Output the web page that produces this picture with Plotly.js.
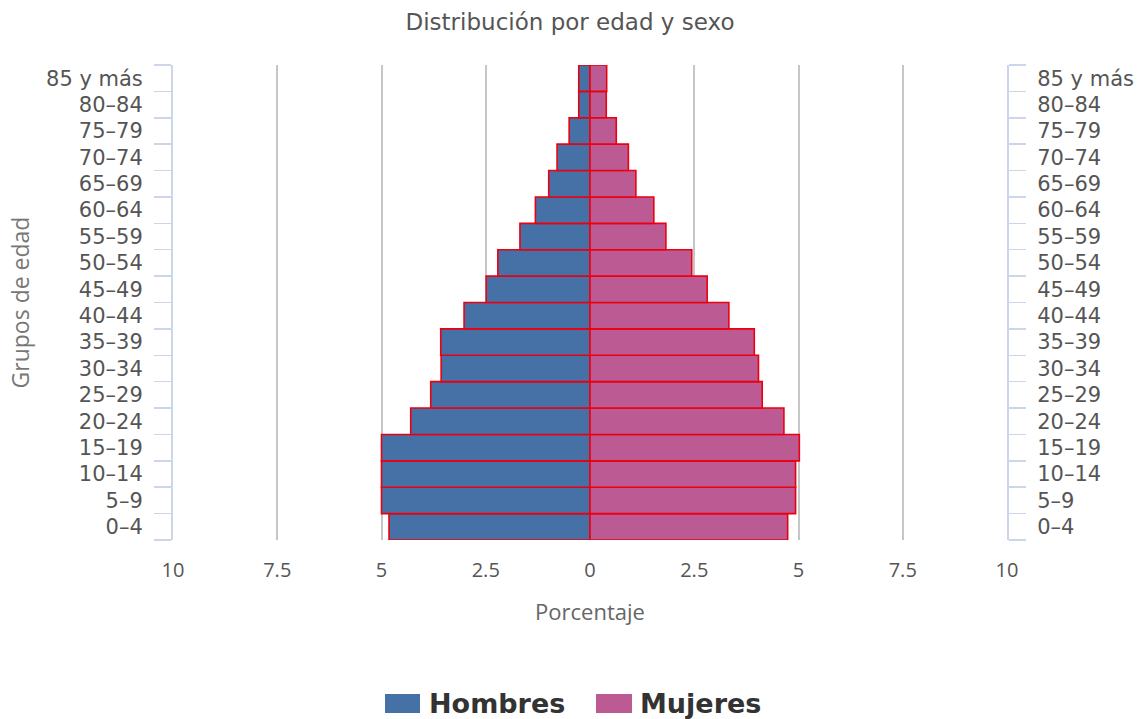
<!DOCTYPE html>
<html>
<head>
<meta charset="utf-8">
<script src="https://cdn.plot.ly/plotly-3.0.1.min.js"></script>
<style>html,body{margin:0;padding:0;background:#fff;}#chart{width:1140px;height:719px;}</style>
</head>
<body>
<div id="chart"></div>
<script>
const categories = ['0–4','5–9','10–14','15–19','20–24','25–29','30–34','35–39','40–44','45–49','50–54','55–59','60–64','65–69','70–74','75–79','80–84','85 y más'];
const hombres = [4.82,5.00,5.00,5.00,4.30,3.82,3.57,3.58,3.02,2.49,2.21,1.68,1.31,0.99,0.79,0.50,0.27,0.27];
const mujeres = [4.74,4.93,4.93,5.02,4.65,4.13,4.04,3.94,3.33,2.81,2.44,1.82,1.53,1.10,0.92,0.63,0.39,0.40];
const tickVals = [-10,-7.5,-5,-2.5,0,2.5,5,7.5,10];
const tickText = ['10','7.5','5','2.5','0','2.5','5','7.5','10'];
const seriesNames = ['Hombres','Mujeres'];
const colHombres = '#4571a6';
const colMujeres = '#bc5a93';
const outline = '#ec0010';

const traces = [
  {type:'bar', orientation:'h', name:seriesNames[0], y:categories, x:hombres.map(v=>-v),
   marker:{color:colHombres, line:{color:outline, width:1.6}}, xaxis:'x', yaxis:'y', showlegend:false,
   hovertemplate:'%{y}: %{customdata}%<extra>'+seriesNames[0]+'</extra>', customdata:hombres},
  {type:'bar', orientation:'h', name:seriesNames[1], y:categories, x:mujeres,
   marker:{color:colMujeres, line:{color:outline, width:1.6}}, xaxis:'x', yaxis:'y2', showlegend:false,
   hovertemplate:'%{y}: %{x}%<extra>'+seriesNames[1]+'</extra>'}
];

const yCommon = {
  type:'category', categoryorder:'array', categoryarray:categories,
  range:[-0.5, categories.length-0.5], autorange:false,
  showline:true, linecolor:'#ccd6eb', linewidth:2,
  ticks:'outside', ticklen:17, tickwidth:1.5, tickcolor:'#ccd6eb', tickson:'boundaries',
  ticklabelstandoff:24,
  showgrid:false, zeroline:false, fixedrange:true,
  tickfont:{family:'DejaVu Sans', size:21, color:'#555555'}
};

const layout = {
  width:1140, height:719,
  margin:{l:173, r:133, t:65, b:179},
  paper_bgcolor:'#ffffff', plot_bgcolor:'#ffffff',
  barmode:'relative', bargap:0,
  showlegend:false,
  title:{text:'Distribución por edad y sexo', x:0.5, xref:'container', y:0.97, yref:'container', yanchor:'middle',
         font:{family:'DejaVu Sans', size:23, color:'#555555'}},
  xaxis:{range:[-10,10], tickmode:'array', tickvals:tickVals, ticktext:tickText,
         showgrid:true, gridcolor:'#c6c6c6', gridwidth:2, zeroline:false, showline:false,
         ticks:'', ticklabelstandoff:16, fixedrange:true,
         tickfont:{family:'Open Sans', size:20, color:'#555555'},
         title:{text:'Porcentaje', standoff:22, font:{family:'Open Sans', size:22, color:'#666666'}}},
  yaxis:Object.assign({}, yCommon, {side:'left',
         title:{text:'Grupos de edad', standoff:10, font:{family:'Open Sans', size:23, color:'#777777'}}}),
  yaxis2:Object.assign({}, yCommon, {side:'right', overlaying:'y'}),
  shapes:[
    {type:'rect', xref:'paper', yref:'paper', x0:0.2542, x1:0.2962, y0:-0.3642, y1:-0.3242, fillcolor:colHombres, line:{width:0}},
    {type:'rect', xref:'paper', yref:'paper', x0:0.5072, x1:0.5504, y0:-0.3642, y1:-0.3242, fillcolor:colMujeres, line:{width:0}}
  ],
  annotations:[
    {xref:'paper', yref:'paper', x:0.3040, y:-0.3442, xanchor:'left', yanchor:'middle', showarrow:false,
     text:'<b>'+seriesNames[0]+'</b>', font:{family:'DejaVu Sans', size:27, color:'#333333'}},
    {xref:'paper', yref:'paper', x:0.5580, y:-0.3442, xanchor:'left', yanchor:'middle', showarrow:false,
     text:'<b>'+seriesNames[1]+'</b>', font:{family:'DejaVu Sans', size:27, color:'#333333'}}
  ]
};

Plotly.newPlot('chart', traces, layout, {displayModeBar:false, staticPlot:true});
</script>
</body>
</html>
